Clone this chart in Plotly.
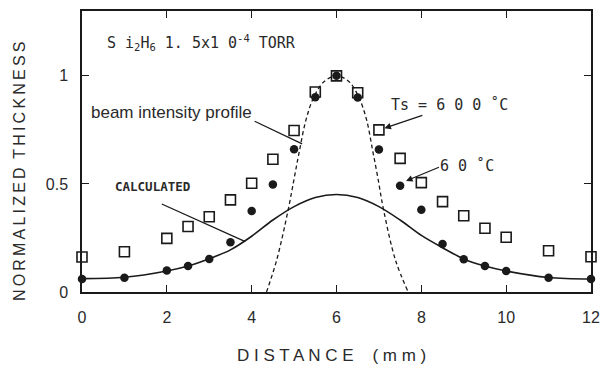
import plotly.graph_objects as go

# ---- data ----
distance = [0, 1, 2, 2.5, 3, 3.5, 4, 4.5, 5, 5.5, 6, 6.5, 7, 7.5, 8, 8.5, 9, 9.5, 10, 11, 12]
ts_600 = [0.162, 0.186, 0.248, 0.303, 0.348, 0.426, 0.503, 0.614, 0.747, 0.925, 1.0, 0.922,
          0.75, 0.618, 0.506, 0.418, 0.353, 0.295, 0.253, 0.191, 0.163]
ts_60 = [0.06, 0.066, 0.099, 0.12, 0.153, 0.23, 0.375, 0.497, 0.66, 0.901, 1.0, 0.9,
         0.659, 0.492, 0.38, 0.222, 0.151, 0.12, 0.097, 0.066, 0.06]

calc_x = [0, 1, 2, 2.5, 3, 3.5, 4, 4.5, 5, 5.5, 6, 6.5, 7, 7.5, 8, 8.5, 9, 9.5, 10, 11, 12]
calc_y = [0.062, 0.068, 0.097, 0.12, 0.154, 0.195, 0.258, 0.333, 0.395, 0.437, 0.451, 0.437,
          0.395, 0.333, 0.262, 0.205, 0.153, 0.12, 0.097, 0.067, 0.06]

beam_x = [4.35, 4.59, 4.86, 5.01, 5.13, 5.28, 5.47, 5.71, 6.0, 6.29, 6.52, 6.71, 6.85,
          6.97, 7.11, 7.39, 7.69]
beam_y = [0, 0.148, 0.38, 0.534, 0.657, 0.796, 0.904, 0.974, 1.0, 0.974, 0.904, 0.796,
          0.657, 0.534, 0.38, 0.148, 0]

x_ticks = [0, 2, 4, 6, 8, 10, 12]
y_ticks = [0, 0.5, 1]
y_tick_text = ["0", "0.5", "1"]

INK = "#1a1a1a"
TXT = "#2a2a2a"
SANS = "Liberation Sans, Arial, sans-serif"
MONO = "DejaVu Sans Mono, monospace"

fig = go.Figure()

fig.add_trace(go.Scatter(
    x=beam_x, y=beam_y, mode="lines", line_shape="spline",
    line=dict(color=INK, width=1.3, dash="4px,3px"), showlegend=False, hoverinfo="skip"))

fig.add_trace(go.Scatter(
    x=calc_x, y=calc_y, mode="lines", line_shape="spline",
    line=dict(color=INK, width=1.6, smoothing=0.9), showlegend=False, hoverinfo="skip"))

fig.add_trace(go.Scatter(
    x=distance, y=ts_600, mode="markers", cliponaxis=False,
    marker=dict(symbol="square-open", size=10, color=INK, line=dict(width=1.6, color=INK)),
    showlegend=False))

fig.add_trace(go.Scatter(
    x=distance, y=ts_60, mode="markers", cliponaxis=False,
    marker=dict(symbol="circle", size=8.5, color=INK, line=dict(width=0)),
    showlegend=False))

# ---- text labels ----
fig.add_annotation(x=2.81, y=1.153, xref="x", yref="y", showarrow=False,
                   text="S i<sub>2</sub>H<sub>6</sub> 1. 5x1 0<sup>-4</sup> TORR",
                   font=dict(family=MONO, size=15, color=TXT))
fig.add_annotation(x=2.11, y=0.829, xref="x", yref="y", showarrow=False,
                   text="beam intensity profile",
                   font=dict(family=SANS, size=17, color=TXT))
fig.add_annotation(x=8.66, y=0.866, xref="x", yref="y", showarrow=False,
                   text="Ts = 6 0 0 ˚C",
                   font=dict(family=MONO, size=15, color=TXT))
fig.add_annotation(x=9.08, y=0.583, xref="x", yref="y", showarrow=False,
                   text="6 0 ˚C",
                   font=dict(family=MONO, size=15, color=TXT))
fig.add_annotation(x=1.67, y=0.486, xref="x", yref="y", showarrow=False,
                   text="<b>CALCULATED</b>",
                   font=dict(family=MONO, size=12.5, color=TXT))

# arrows
fig.add_annotation(x=7.13, y=0.758, ax=8.06, ay=0.819, xref="x", yref="y",
                   axref="x", ayref="y", text="", showarrow=True,
                   arrowhead=2, arrowsize=1, arrowwidth=1.3, arrowcolor=INK)
fig.add_annotation(x=7.64, y=0.514, ax=8.45, ay=0.58, xref="x", yref="y",
                   axref="x", ayref="y", text="", showarrow=True,
                   arrowhead=2, arrowsize=1, arrowwidth=1.3, arrowcolor=INK)

# leader lines
fig.add_shape(type="line", x0=4.07, y0=0.79, x1=5.19, y1=0.685, xref="x", yref="y",
              line=dict(color=INK, width=1.3))
fig.add_shape(type="line", x0=1.88, y0=0.407, x1=3.85, y1=0.233, xref="x", yref="y",
              line=dict(color=INK, width=1.3))

# axis titles
y_title = "\u2009".join("NORMALIZED") + "  " + "\u2009".join("THICKNESS")
fig.add_annotation(x=-0.1236, y=0.4306, xref="paper", yref="paper", showarrow=False,
                   xanchor="center", yanchor="middle",
                   text=y_title, textangle=-90,
                   font=dict(family=SANS, size=16, color=TXT))
fig.add_annotation(x=0.49, y=-0.2242, xref="paper", yref="paper", showarrow=False,
                   xanchor="center", yanchor="middle",
                   text="D I S T A N C E    ( m m )",
                   font=dict(family=SANS, size=17, color=TXT))

axis_common = dict(showgrid=False, zeroline=False, showline=True, linecolor=INK,
                   linewidth=1.5, mirror="ticks", ticks="inside", ticklen=7,
                   tickwidth=1.2, tickcolor=INK,
                   tickfont=dict(family=SANS, size=16, color=TXT))

fig.update_xaxes(range=[0, 12], tickvals=x_ticks, ticklabelstandoff=10, **axis_common)
fig.update_yaxes(range=[0, 1.3], tickvals=y_ticks, ticktext=y_tick_text,
                 ticklabelstandoff=9, **axis_common)

fig.update_layout(width=607, height=365, plot_bgcolor="white", paper_bgcolor="white",
                  margin=dict(l=82, r=7, t=11, b=73), showlegend=False)

fig.write_html("out.html")
